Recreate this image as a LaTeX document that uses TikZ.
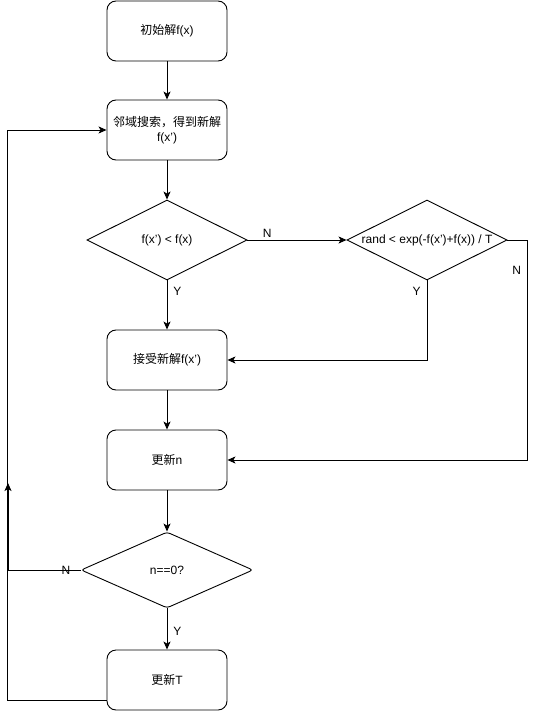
\documentclass[tikz,border=0pt]{standalone}
\usepackage{fontspec}
\setmainfont{Liberation Sans}
\newfontfamily\cjk{Noto Sans CJK SC}
\usetikzlibrary{arrows.meta,positioning,shapes.geometric}
\newcommand{\nowidth}[1]{\makebox[0pt]{#1}}
\tikzset{
	block/.style={rectangle, draw, rounded corners=9pt, minimum width=120pt, minimum height=60pt, align=center, font=\fontsize{12}{15}\selectfont},
	decision/.style={diamond, draw, minimum width=160pt, minimum height=80pt, inner sep=0pt, font=\fontsize{12}{15}\selectfont},
	flow/.style={draw, -{Stealth[length=8pt,width=7pt,inset=2pt]}},
	tag/.style={font=\fontsize{12}{15}\selectfont, inner xsep=6pt, inner ysep=2pt}
}

\begin{document}
\begin{tikzpicture}[x=1pt,y=-1pt,node distance=100pt,line width=0.9pt]
	\useasboundingbox (0,0) rectangle (536,711);
	\node at (167,31) [block] (init) {{\cjk 初始解}f(x)};
	\node [block, below of=init, yshift=1pt] (search) {{\cjk 邻域搜索，得到新解}\\f(x')};
	\node [decision, below of=search, yshift=-10pt] (better) {f(x') < f(x)};
	\node [decision, right of=better, node distance=260pt] (accept) {\nowidth{rand < exp(-f(x')+f(x)) / T}};
	\node [block, below of=better, yshift=-20pt] (take) {{\cjk 接受新解}f(x')};
	\node [block, below of=take] (count) {{\cjk 更新}n};
	\node [decision, below of=count, yshift=-10pt, minimum width=172pt, minimum height=76pt, rounded corners=3pt] (done) {n==0?};
	\node [block, below of=done, yshift=-10pt] (cool) {{\cjk 更新}T};
	\coordinate (loop) at (8,483);

	\draw [flow] (init) -- (search);
	\draw [flow] (search) -- (better);
	\draw [flow] (better) -- node [tag, pos=0.2, above] {N} (accept);
	\draw [flow] (better) -- node [tag, pos=0.22, right] {Y} (take);
	\draw [flow] (accept.south) |- node [tag, pos=0.07, left] {Y} (take);
	\draw [flow] (accept.east) -- ++(20,0) |- node [tag, pos=0.07, left] {N} (count);
	\draw [flow] (take) -- (count);
	\draw [flow] (count) -- (done);
	\draw [flow] (done) -- node [tag, pos=0.55, right] {Y} (cool);
	\draw [flow] (done.west) -| node [tag, pos=0.1] {N} (loop);
	\draw [flow] ([yshift=-20pt]cool.west) -- ++(-99,0) |- (search);
\end{tikzpicture}
\end{document}
